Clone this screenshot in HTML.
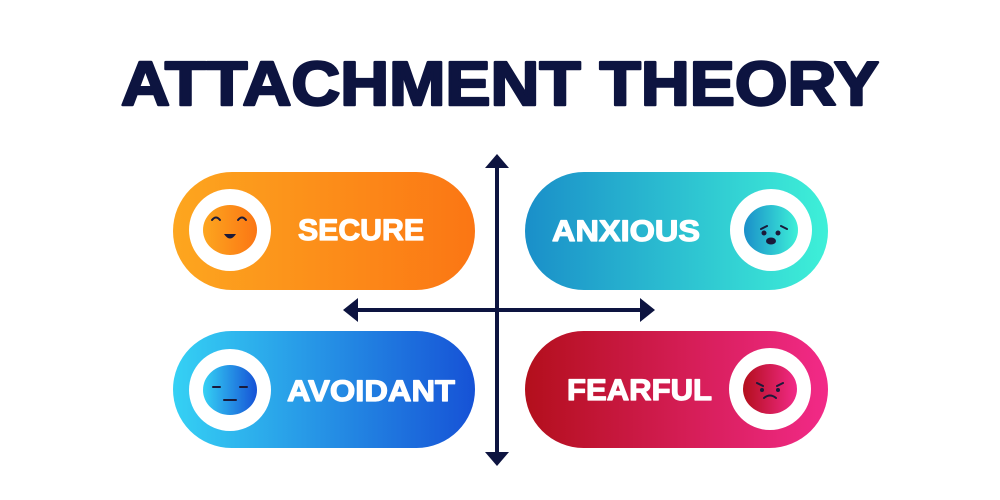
<!DOCTYPE html>
<html><head><meta charset="utf-8"><style>html,body{margin:0;padding:0;background:#fff;}svg{display:block}</style></head>
<body>
<svg width="1000" height="500" viewBox="0 0 1000 500" xmlns="http://www.w3.org/2000/svg" font-family="Liberation Sans, sans-serif" font-weight="bold">
<defs>
<linearGradient id="g1" x1="0" x2="1"><stop offset="0" stop-color="#fda61f"/><stop offset="1" stop-color="#fb7614"/></linearGradient>
<linearGradient id="g2" x1="0" x2="1"><stop offset="0" stop-color="#1a8fc9"/><stop offset="1" stop-color="#3ef0d8"/></linearGradient>
<linearGradient id="g3" x1="0" x2="1"><stop offset="0" stop-color="#35d1f4"/><stop offset="1" stop-color="#1652d6"/></linearGradient>
<linearGradient id="g4" x1="0" x2="1"><stop offset="0" stop-color="#b30f1c"/><stop offset="1" stop-color="#f22a88"/></linearGradient>
</defs>
<text x="500" y="105" text-anchor="middle" font-size="62" fill="#0d1440" stroke="#0d1440" stroke-width="2.5" stroke-linejoin="round" textLength="758" lengthAdjust="spacingAndGlyphs">ATTACHMENT THEORY</text>

<rect x="173" y="172" width="302" height="118" rx="59" fill="url(#g1)"/>
<rect x="525" y="172" width="303" height="118" rx="59" fill="url(#g2)"/>
<rect x="173" y="331" width="302" height="117" rx="58.5" fill="url(#g3)"/>
<rect x="525" y="331" width="303" height="117" rx="58.5" fill="url(#g4)"/>

<circle cx="230" cy="230" r="41" fill="#fff"/><ellipse cx="230" cy="230" rx="27" ry="25" fill="url(#g1)"/>
<circle cx="771" cy="230" r="41" fill="#fff"/><ellipse cx="771" cy="230" rx="27" ry="25" fill="url(#g2)"/>
<circle cx="230" cy="390" r="41" fill="#fff"/><ellipse cx="230" cy="390" rx="27" ry="25" fill="url(#g3)"/>
<circle cx="770" cy="389" r="41" fill="#fff"/><ellipse cx="770" cy="389" rx="27" ry="25" fill="url(#g4)"/>

<g stroke="#1a1a3a" stroke-width="2" fill="none" stroke-linecap="round">
<path d="M212 220q4-5 8 0M238 220q4-5 8 0"/>
<path d="M761 229l6-3M781 226l6 3"/>
<path d="M213 387h7M240 387h7M224 400h12"/>
<path d="M757 383l6 3M783 383l-6 3M764 398q6-5 12 0"/>
</g>
<g fill="#1a1a3a">
<path d="M224 234h12q-6 9-12 0z"/>
<circle cx="764" cy="233" r="2.5"/><circle cx="778" cy="233" r="2.5"/>
<ellipse cx="771" cy="241" rx="5" ry="3.5"/>
<circle cx="762" cy="390" r="2"/><circle cx="778" cy="390" r="2"/>
</g>

<g fill="#fff" stroke="#fff" stroke-width="1.2" stroke-linejoin="round" font-size="30">
<text x="298" y="240" textLength="126" lengthAdjust="spacingAndGlyphs">SECURE</text>
<text x="552" y="241" textLength="148" lengthAdjust="spacingAndGlyphs">ANXIOUS</text>
<text x="287" y="401" textLength="168" lengthAdjust="spacingAndGlyphs">AVOIDANT</text>
<text x="567" y="400" textLength="145" lengthAdjust="spacingAndGlyphs">FEARFUL</text>
</g>

<g stroke="#0d1440" stroke-width="4">
<line x1="497" y1="165" x2="497" y2="455"/>
<line x1="355" y1="310" x2="645" y2="310"/>
</g>
<g fill="#0d1440">
<path d="M497 154l-12 14h24z"/>
<path d="M497 466l-12-14h24z"/>
<path d="M343 310l15-12v24z"/>
<path d="M655 310l-15-12v24z"/>
</g>
</svg>
</body></html>
